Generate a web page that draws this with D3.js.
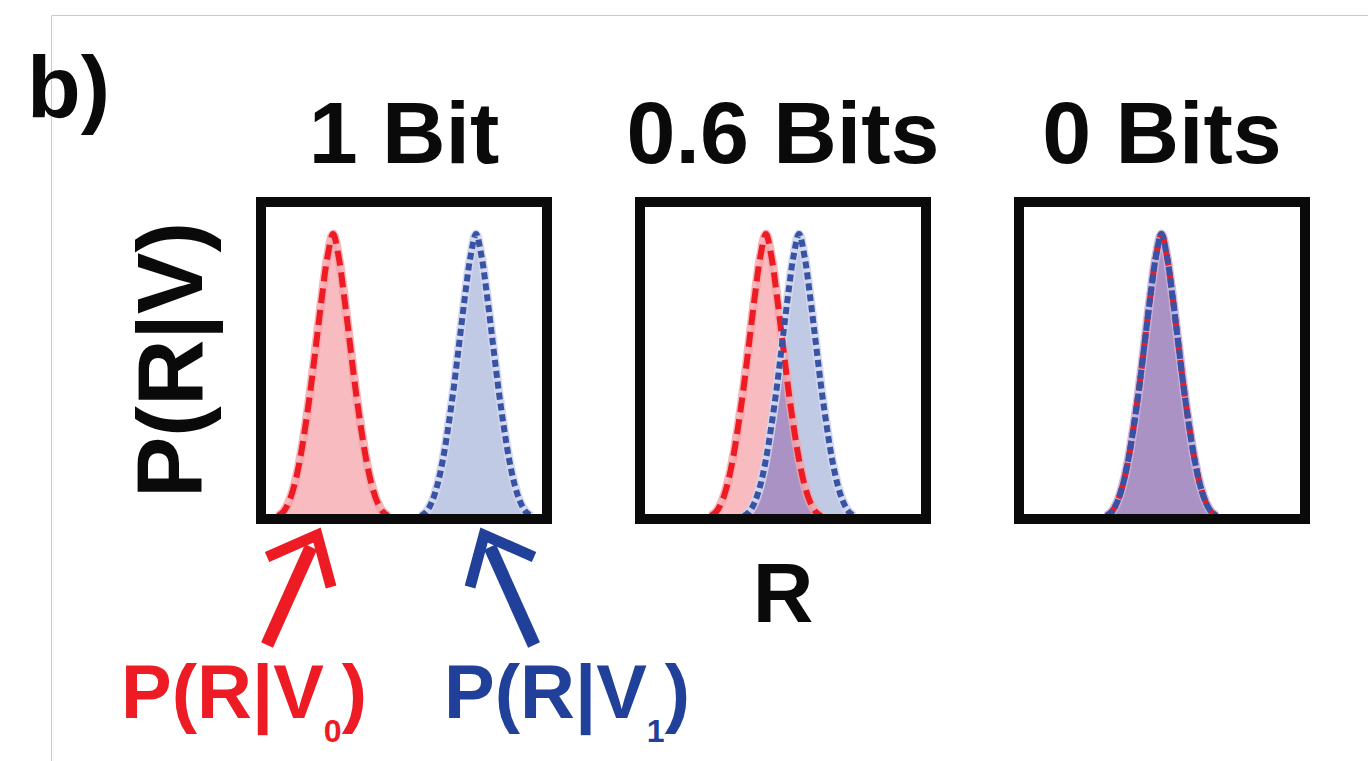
<!DOCTYPE html>
<html>
<head>
<meta charset="utf-8">
<script src="https://cdn.jsdelivr.net/npm/d3@7"></script>
<style>
  html, body { margin: 0; padding: 0; background: #fff; }
  svg { display: block; font-family: "Liberation Sans", Arial, sans-serif; font-weight: bold; }
</style>
</head>
<body>
<div id="container"></div>
<script>
/* CONSTANTS AND GLOBALS */
const width = 1368,
  height = 761;

// DATA: one panel per information value
const titles = ["1 Bit", "0.6 Bits", "0 Bits"];
const meanV0 = [2.43, 4.38, 4.98];   // peak of P(R|V0), in R units (0..10)
const meanV1 = [7.61, 5.58, 4.98];   // peak of P(R|V1)

// shape of each response distribution (offset from peak -> height)
const offsets = [-2.0, -1.8, -1.6, -1.4, -1.2, -1.0, -0.8, -0.6, -0.4, -0.2, 0,
  0.2, 0.4, 0.6, 0.8, 1.0, 1.2, 1.4, 1.6, 1.8, 2.0];
const heights = [0, 0.015, 0.05, 0.11, 0.20, 0.32, 0.46, 0.62, 0.78, 0.92, 1.0,
  0.92, 0.78, 0.62, 0.46, 0.32, 0.20, 0.11, 0.05, 0.015, 0];

const RED = "#ed1c24",
  BLUE = "#3953a4";

/* LAYOUT */
const panelW = 286, panelH = 317, panelTop = 202, border = 10;
const px = d3.scaleLinear().domain([0, 2]).range([261, 261 + 2 * 379]); // panel left edges

const svg = d3.select("#container").append("svg")
  .attr("width", width)
  .attr("height", height);

// thin grey frame of the original figure
svg.append("path")
  .attr("d", `M51.5,761 V15.5 H${width}`)
  .attr("fill", "none")
  .attr("stroke", "#cacaca")
  .attr("stroke-width", 1);

svg.append("text")
  .attr("x", 27).attr("y", 117)
  .attr("font-size", 88)
  .attr("fill", "#0a0a0a")
  .text("b)");

// y label
svg.append("text")
  .attr("transform", "translate(202,360) rotate(-90)")
  .attr("text-anchor", "middle")
  .attr("font-size", 92)
  .attr("fill", "#0a0a0a")
  .text("P(R|V)");

const y = d3.scaleLinear().domain([0, 1]).range([panelTop + panelH - 3, 234]);

const curve = m => offsets.map((o, i) => ({ r: m + o, p: heights[i] }));

titles.forEach((title, i) => {
  const x0 = px(i);
  const x = d3.scaleLinear().domain([0, 10])
    .range([x0 + border / 2, x0 + panelW - border / 2]);

  const area = d3.area().x(d => x(d.r)).y0(y(0)).y1(d => y(d.p)).curve(d3.curveCatmullRom);
  const line = d3.line().x(d => x(d.r)).y(d => y(d.p)).curve(d3.curveCatmullRom);

  const g = svg.append("g");
  const d0 = curve(meanV0[i]), d1 = curve(meanV1[i]);

  // clip for the overlap
  svg.append("clipPath").attr("id", "clip" + i)
    .append("path").attr("d", area(d0));

  g.append("path").attr("d", area(d0)).attr("fill", "#f8bcc0");
  g.append("path").attr("d", area(d1)).attr("fill", "#c1cae5");
  g.append("path").attr("d", area(d1)).attr("fill", "#ab92c5")
    .attr("clip-path", `url(#clip${i})`);

  // soft halo under the dashed outlines
  g.append("path").attr("d", line(d0)).attr("fill", "none")
    .attr("stroke", "#f4a4a9").attr("stroke-width", 9).attr("opacity", i == 2 ? 0 : 0.8);
  g.append("path").attr("d", line(d1)).attr("fill", "none")
    .attr("stroke", i == 2 ? "#c5b3dc" : "#d0d6ec").attr("stroke-width", 9).attr("opacity", 0.9);

  g.append("path").attr("d", line(d0)).attr("fill", "none")
    .attr("stroke", RED).attr("stroke-width", 6)
    .attr("stroke-dasharray", "15,7");
  g.append("path").attr("d", line(d1)).attr("fill", "none")
    .attr("stroke", BLUE).attr("stroke-width", 6)
    .attr("stroke-dasharray", i == 2 ? "9,3" : "7,4");

  // panel box
  svg.append("rect")
    .attr("x", x0).attr("y", panelTop)
    .attr("width", panelW).attr("height", panelH)
    .attr("fill", "none")
    .attr("stroke", "#0a0a0a")
    .attr("stroke-width", border);

  svg.append("text")
    .attr("x", x0 + panelW / 2).attr("y", 163)
    .attr("text-anchor", "middle")
    .attr("font-size", 88)
    .attr("fill", "#0a0a0a")
    .text(title);

  if (i == 1) {
    svg.append("text")
      .attr("x", x0 + panelW / 2).attr("y", 622)
      .attr("text-anchor", "middle")
      .attr("font-size", 84)
      .attr("fill", "#0a0a0a")
      .text("R");
  }

  // arrows + legend labels under the first panel
  if (i == 0) {
    const arrows = [
      { tip: [x(meanV0[0]) - 16, 535], side: -1, color: RED, label: "0", lx: 121 },
      { tip: [x(meanV1[0]) + 8, 535], side: 1, color: "#21409a", label: "1", lx: 444 }
    ];
    arrows.forEach(a => {
      const [tx, ty] = a.tip, s = a.side;
      svg.append("line")
        .attr("x1", tx + s * 50).attr("y1", ty + 110)
        .attr("x2", tx + s * 6).attr("y2", ty + 12)
        .attr("stroke", a.color).attr("stroke-width", 13);
      svg.append("path")
        .attr("d", `M${tx + s * 50},${ty + 22} L${tx},${ty} L${tx - s * 14},${ty + 52}`)
        .attr("fill", "none")
        .attr("stroke", a.color).attr("stroke-width", 11)
        .attr("stroke-linejoin", "miter");

      const t = svg.append("text")
        .attr("x", a.lx).attr("y", 718)
        .attr("font-size", 76)
        .attr("fill", a.color);
      t.append("tspan").text("P(R|V");
      t.append("tspan").attr("font-size", 32).attr("dy", 24).text(a.label);
      t.append("tspan").attr("dy", -24).text(")");
    });
  }
});
</script>
</body>
</html>
